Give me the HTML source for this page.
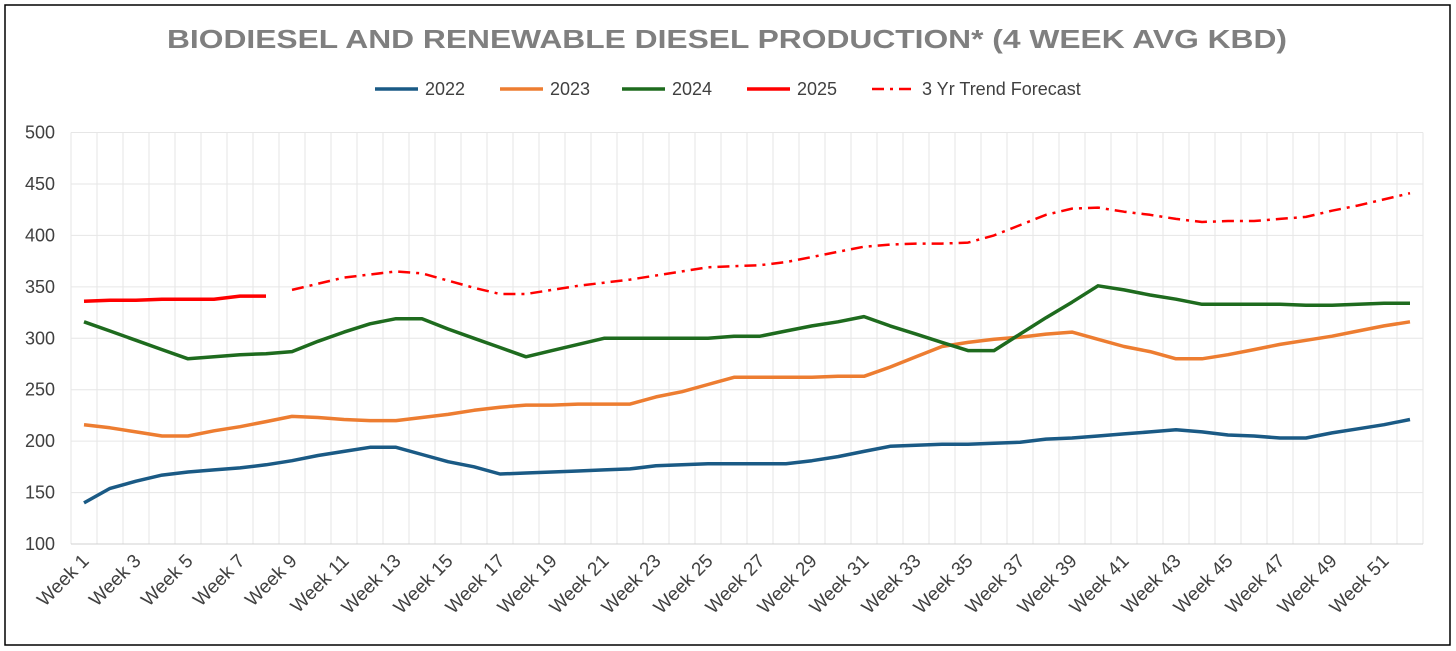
<!DOCTYPE html>
<html><head><meta charset="utf-8"><style>
body{margin:0;background:#fff;}
svg{display:block;font-family:"Liberation Sans",Arial,sans-serif;}
</style></head><body>
<svg id="chart" width="1456" height="651">
<rect x="5" y="5" width="1445" height="640" fill="#fff" stroke="#000" stroke-width="1.5"/>
<text x="727" y="48" text-anchor="middle" font-size="26" font-weight="bold" fill="#7f7f7f" textLength="1120" lengthAdjust="spacingAndGlyphs">BIODIESEL AND RENEWABLE DIESEL PRODUCTION* (4 WEEK AVG KBD)</text>
<g id="legend"></g>
<g id="grid"></g>
<g id="axes"></g>
<g id="series"></g>
</svg>
<script>
const weeks = Array.from({length:52},(_,i)=>'Week '+(i+1));
const yTicks = [100,150,200,250,300,350,400,450,500];
const s2022 = [140,154,161,167,170,172,174,177,181,186,190,194,194,187,180,175,168,169,170,171,172,173,176,177,178,178,178,178,181,185,190,195,196,197,197,198,199,202,203,205,207,209,211,209,206,205,203,203,208,212,216,221];
const s2023 = [216,213,209,205,205,210,214,219,224,223,221,220,220,223,226,230,233,235,235,236,236,236,243,248,255,262,262,262,262,263,263,272,282,292,296,299,301,304,306,299,292,287,280,280,284,289,294,298,302,307,312,316];
const s2024 = [316,307,298,289,280,282,284,285,287,297,306,314,319,319,309,300,291,282,288,294,300,300,300,300,300,302,302,307,312,316,321,312,304,296,288,288,304,320,335,351,347,342,338,333,333,333,333,332,332,333,334,334];
const s2025 = [336,337,337,338,338,338,341,341];
const forecast = [null,null,null,null,null,null,null,null,347,353,359,362,365,363,356,349,343,343,347,351,354,357,361,365,369,370,371,374,379,384,389,391,392,392,393,400,410,420,426,427,423,420,416,413,414,414,416,418,424,429,435,441];

const NS='http://www.w3.org/2000/svg';
const L=71,R=1423,T=132.5,B=544,yMin=100,yMax=500;
const cw=(R-L)/weeks.length;
const xS=i=>L+cw*(i+0.5);
const yS=v=>B-(v-yMin)/(yMax-yMin)*(B-T);
function mk(tag,attrs,parent){const e=document.createElementNS(NS,tag);for(const k in attrs)e.setAttribute(k,attrs[k]);parent.appendChild(e);return e;}
const grid=document.getElementById('grid'),axes=document.getElementById('axes'),series=document.getElementById('series'),legend=document.getElementById('legend');
for(let i=0;i<=weeks.length;i++){
  const x=L+cw*i;
  const g=mk('line',{x1:x,x2:x,y1:T,y2:B,stroke:'#e6e6e6','stroke-width':1},grid);
  
  
}
yTicks.forEach(v=>{
  const y=yS(v);
  const g=mk('line',{x1:L,x2:R,y1:y,y2:y,stroke:v===yMin?'#d0d0d0':'#e6e6e6','stroke-width':1},grid);
  
  
  const t=mk('text',{x:55,y:y+6,'text-anchor':'end','font-size':18,fill:'#404040'},axes);
  t.textContent=v;
  
  
});
weeks.forEach((w,i)=>{
  if(i%2!==0)return;
  const x=xS(i)+6,y=562;
  const t=mk('text',{x:x,y:y,'text-anchor':'end','font-size':19,fill:'#404040',transform:`rotate(-45 ${x} ${y})`},axes);
  t.textContent=w;
  
  
});
function drawLine(data,color,dash,name){
  let d='',pen=false;
  data.forEach((v,i)=>{if(v==null){pen=false;return;}d+=(pen?'L':'M')+xS(i).toFixed(1)+' '+yS(v).toFixed(1)+' ';pen=true;});
  const p=mk('path',{d:d,fill:'none',stroke:color,'stroke-width':dash?2.5:3.5,'stroke-linejoin':'round'},series);
  if(dash)p.setAttribute('stroke-dasharray',dash);
  
  
}
drawLine(s2022,'#1a5a85',null,'line-2022');
drawLine(s2023,'#ed7d31',null,'line-2023');
drawLine(s2024,'#1e6b1e',null,'line-2024');
drawLine(s2025,'#ff0000',null,'line-2025');
drawLine(forecast,'#ff0000','12 6 3 6','line-forecast');
const leg=[['2022','#1a5a85',375,null],['2023','#ed7d31',500,null],['2024','#1e6b1e',622,null],['2025','#ff0000',747,null],['3 Yr Trend Forecast','#ff0000',872,'12 6 3 6']];
leg.forEach(([lab,c,x,dash])=>{
  const l=mk('line',{x1:x,x2:x+43,y1:89,y2:89,stroke:c,'stroke-width':dash?2.5:3.5},legend);
  if(dash)l.setAttribute('stroke-dasharray',dash);
  
  
  const t=mk('text',{x:x+50,y:95,'font-size':18,fill:'#404040'},legend);
  t.textContent=lab;
  
  
});
</script>
</body></html>
